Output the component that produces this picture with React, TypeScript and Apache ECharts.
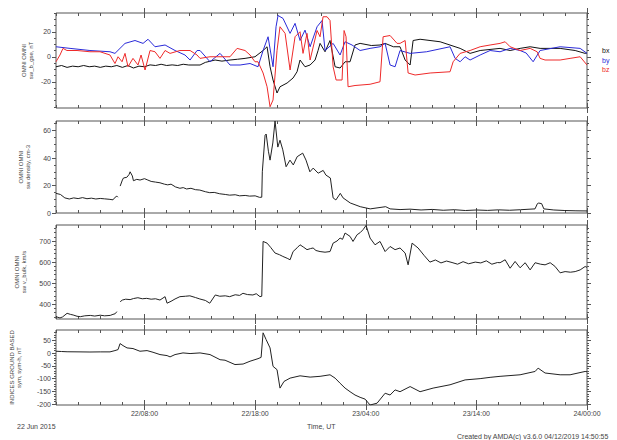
import React, { useEffect, useRef } from "react";
import * as echarts from "echarts";

// ---------- data (hours since 22 Jun 2015 00:00 UT) ----------
const X_MAJOR = [8, 18, 28, 38, 48];
const X_MINOR = [0, 2, 4, 6, 10, 12, 14, 16, 20, 22, 24, 26, 30, 32, 34, 36, 40, 42, 44, 46];

const Y_RANGES = [[-41, 35], [0, 67], [330, 776], [-203, 90]];
const Y_LABELS = [[-20, 0, 20], [0, 20, 40, 60], [400, 500, 600, 700], [-200, -150, -100, -50, 0, 50]];
const Y_MINOR = [
  [-40, -35, -30, -25, -15, -10, -5, 5, 10, 15, 25, 30, 35],
  [5, 10, 15, 25, 30, 35, 45, 50, 55, 65],
  [340, 360, 380, 420, 440, 460, 480, 520, 540, 560, 580, 620, 640, 660, 680, 720, 740, 760],
  [-190, -180, -170, -160, -140, -130, -120, -110, -90, -80, -70, -60, -40, -30, -20, -10, 10, 20, 30, 40, 60, 70, 80],
];
const Y_NAMES = [
  "OMNI OMNI\nsw_b_gse, nT",
  "OMNI OMNI\nsw density, cm-3",
  "OMNI OMNI\nsw v_bulk, km/s",
  "INDICES GROUND BASED\nsym, sym-h, nT",
];

const BX = [[0,-8],[0.5,-7],[1,-8.5],[1.5,-7.5],[2,-8],[2.5,-7],[3,-8],[3.5,-7.5],[4,-8.5],[4.5,-7.5],[5,-8],[5.5,-7],[6,-8.5],[6.5,-7],[7,-9],[7.5,-7.5],[8,-8],[8.5,-6.5],[9,-7],[9.5,-6],[10,-7],[10.5,-6.5],[11,-7],[11.5,-6],[12,-6.6],[13.02,-6.6],[13.5,-4.5],[14.38,-2.6],[15,-3.5],[15.73,-2.6],[16.4,-2],[17.09,-1.3],[17.99,0],[18.72,5],[19.08,8],[19.35,-8],[19.62,-18.6],[19.98,-29],[20.25,-24],[20.89,-21],[21.43,-17],[21.79,-12],[22.06,-2.6],[22.51,-8],[22.97,-6.6],[23.42,-2.6],[23.69,5],[23.87,10.7],[24.32,4],[24.77,13],[25.23,-8],[25.68,-9],[26.13,-4],[26.58,-4],[27.03,9.4],[27.49,10.7],[28.5,9],[29.29,9.4],[29.75,10.7],[30.5,8],[31.1,8],[31.56,-2.6],[32.01,-6.6],[32.28,13],[32.91,14],[34.72,12],[36.53,6.7],[37.43,2.7],[38.34,5],[40.14,6.7],[41.05,5],[41.95,6.7],[42.86,8],[43.76,6.7],[45.57,6.7],[46.93,5],[47.83,2.7],[48,3]];

const BY = [[0,8],[1.27,6.7],[3.07,5],[4.88,4],[5.33,2.7],[6.24,10.7],[7.14,13],[7.87,10.7],[8.32,14],[8.95,8],[9.86,9.4],[10.76,5],[11.66,1.4],[12.12,-2.6],[12.75,5],[13.02,5],[13.92,-4],[14.83,2.7],[15.73,-6.6],[16.64,-6.6],[17.54,-5.4],[18.26,-8],[18.72,5],[19.17,16],[19.62,-8],[19.89,24],[20.07,33],[20.52,30.7],[21.16,18.7],[21.61,26.7],[22.06,13],[22.51,21.3],[22.97,8],[23.6,24],[24.05,29],[24.32,5],[25.05,10.7],[25.68,1.4],[26.13,12],[26.76,9.4],[27.49,5],[28.39,6.7],[29.29,8],[29.75,10.7],[30.2,-6.6],[30.65,-8],[31.1,5],[32.01,2.7],[33.5,4],[35.62,8],[36.08,-1.3],[36.53,-4],[36.98,0],[37.43,-2.6],[38.34,1.4],[39.24,5],[40.14,4],[41.05,6.7],[41.95,5],[42.5,3],[43.13,-4],[43.76,5],[45.57,8],[47.38,6.7],[48,2.7]];

const BZ = [[0,-4],[0.36,1.4],[0.63,6.7],[0.99,5],[1.9,5],[3.07,4],[3.98,4],[4.88,1.4],[5.33,-5.4],[5.61,0],[5.97,-4],[6.24,2.7],[6.51,-8],[6.96,-1.3],[7.41,-6.6],[7.69,1.4],[8.05,-10.6],[8.5,5],[8.95,4],[9.4,-1.3],[9.86,5],[10.31,2.7],[11.21,5],[12.12,5],[12.75,1.4],[13.02,-1.3],[13.92,0],[15.73,0],[16.37,6.7],[17.09,5],[17.54,1.4],[17.99,-4],[18.26,-4],[18.72,-13],[19.08,-24],[19.35,-40],[19.62,-34.6],[19.98,5],[20.25,24],[20.71,18.7],[21.16,-10.6],[21.61,16],[22.06,20],[22.33,2.7],[22.69,18.7],[22.97,-2.6],[23.6,21],[23.87,16],[24.14,32],[24.5,32],[24.77,29],[25.05,-8],[25.32,-18.6],[25.86,-18.6],[26.04,21],[26.22,16],[26.4,-24],[27.03,-23],[28.39,-22],[29.29,-20],[29.57,16],[30.2,17],[30.83,10.7],[31.1,10.7],[31.56,13],[31.83,-13],[32.46,-14.6],[33.82,-13],[35.62,-12],[35.9,-4],[36.53,2.7],[37.43,5],[38.34,8],[39.24,9.4],[40.14,10.7],[40.6,12],[41.05,8],[41.95,5],[42.86,6.7],[43.49,4],[43.76,-1.3],[44.21,-2.6],[45.57,-2.6],[46.47,-1.3],[47.38,0],[48,-6.6]];

const DENS = [[0,14.3],[0.4,13.5],[0.8,11],[1.2,10.2],[1.6,11],[2.0,10.5],[2.4,11.2],[2.8,10.4],[3.2,10.8],[3.6,10.2],[4.0,10.6],[4.4,10.3],[4.8,10.0],[5.15,9.6],[5.35,11.5],[5.5,12.3],[5.6,11.5],[5.7,"-"],[5.8,19.6],[6.0,24],[6.1,25.5],[6.4,26],[6.6,28],[6.7,30],[6.9,27],[7.0,23.5],[7.3,24.5],[7.6,24],[8.0,25],[8.3,24],[8.6,23],[9.0,22.5],[9.4,22],[9.8,21],[10.1,20.5],[10.4,21],[10.8,19],[11.2,18],[11.5,18.5],[11.8,17.5],[12.2,18],[12.6,17],[13.0,16.7],[13.5,15.5],[13.9,14.8],[14.3,15],[14.8,14],[15.3,13.5],[15.7,13],[16.2,13.3],[16.6,12.5],[17.1,12.8],[17.5,12.3],[18.0,12.5],[18.4,11.4],[18.6,11.5],[18.65,30],[18.9,56.7],[19.0,57.5],[19.2,45],[19.35,38.5],[19.6,51],[19.8,67],[20.05,48],[20.25,53],[20.5,46],[20.8,33.7],[21.15,38.5],[21.45,35],[21.8,41],[22.3,43.6],[22.6,38.5],[22.95,30],[23.25,32.7],[23.7,29],[24.15,31],[24.4,27.6],[24.8,25.5],[25.05,11],[25.3,9.5],[25.7,14.3],[25.95,11],[26.6,7.3],[27.5,4.6],[28.4,3],[29.8,4.6],[30.2,3],[31.1,2.5],[32,2.8],[33,2.2],[34,2.6],[35,2.0],[36,2.4],[37,1.8],[38,2.2],[39,1.9],[40,2.3],[41,2.0],[42,2.4],[43.3,3],[43.5,6.5],[43.6,7.3],[43.9,6.8],[44.1,3],[45,2.2],[46,1.8],[47,1.6],[48,1.5]];

const VEL = [[0,341],[0.36,335],[0.6,340],[1.0,357],[1.3,352],[1.55,349],[1.9,343],[2.2,341],[2.6,345],[3.1,347],[3.5,344],[4.0,348],[4.4,345],[4.9,347],[5.15,352],[5.35,355],[5.5,365],[5.65,"-"],[5.8,412],[6.0,420],[6.3,424],[6.7,422],[7.0,427],[7.4,431],[7.8,426],[8.2,428],[8.6,424],[9.0,426],[9.4,420],[9.86,436],[10.04,405],[10.4,414],[10.76,425],[11.2,436],[11.7,438],[12.1,440],[12.6,432],[13.0,425],[13.5,418],[13.9,405],[14.4,444],[14.8,438],[15.3,440],[15.7,436],[16.2,445],[16.6,442],[16.9,452],[17.3,446],[17.8,444],[18.1,450],[18.44,436],[18.6,438],[18.72,698],[19.08,690],[19.4,670],[19.8,643],[20.2,635],[20.5,627],[20.9,618],[21.16,611],[21.43,650],[21.8,668],[22.06,682],[22.4,670],[22.69,659],[23.0,664],[23.24,667],[23.5,655],[23.87,650],[24.32,647],[24.77,650],[25.05,690],[25.4,700],[25.68,714],[25.9,708],[26.13,738],[26.58,722],[26.85,698],[27.22,730],[27.5,740],[27.76,754],[28.03,774],[28.39,714],[28.84,682],[29.29,698],[29.75,650],[30.2,674],[30.65,659],[31.1,667],[31.56,643],[31.83,587],[32.19,690],[32.73,667],[33.3,630],[33.8,600],[34.3,610],[34.8,596],[35.3,605],[35.8,598],[36.3,590],[36.8,602],[37.3,592],[37.9,600],[38.4,596],[38.9,606],[39.4,590],[39.9,598],[40.14,597],[40.6,611],[41.05,571],[41.5,603],[41.95,573],[42.41,597],[42.86,563],[43.31,597],[43.8,590],[44.21,587],[44.67,597],[45.1,580],[45.57,549],[46.02,555],[46.5,552],[46.93,555],[47.38,563],[47.83,579],[48,575]];

const SYMH = [[0,7],[0.5,6],[1,5],[2.17,4.5],[3.07,4],[4,4.5],[4.88,4.5],[5.33,9.6],[5.61,13.5],[5.79,37],[6.06,29],[6.42,20],[6.96,17.5],[7.59,7],[8.23,9.6],[8.77,3],[9.4,-6],[10.04,-10],[10.31,-15],[10.76,-6],[11.48,0.5],[12.12,-2],[13.02,0.5],[13.92,-6],[14.83,-26],[15.28,-28],[16.18,-45],[16.91,-43],[17.54,-32],[18.26,-22],[18.54,-17],[18.72,79],[18.99,53],[19.35,20],[19.62,-52],[19.98,-65],[20.25,-137],[20.61,-111],[21.16,-98],[22.06,-89],[22.97,-94],[23.87,-91],[24.77,-85],[25.23,-98],[25.68,-118],[26.13,-137],[26.58,-151],[27.03,-164],[27.49,-173],[27.94,-180],[28.39,-203],[29.02,-196],[29.75,-157],[30.2,-164],[30.65,-144],[31.1,-151],[32.01,-131],[32.91,-151],[34.09,-137],[35.62,-124],[36.98,-105],[38.34,-100],[39.24,-95],[40.14,-91],[41.95,-85],[43.31,-72],[43.58,-59],[44.21,-78],[45.57,-85],[46.47,-85],[47.83,-72],[48,-73]];

const LEGEND = [
  { name: "bx", color: "#111111" },
  { name: "by", color: "#2a2ad8" },
  { name: "bz", color: "#ee2a2a" },
];

// ---------- layout ----------
const GRIDS = [
  { top: 13, height: 95 },
  { top: 121, height: 92 },
  { top: 225, height: 94 },
  { top: 330, height: 75 },
];
const NAME_GAPS = [22, 25, 29, 34];
const AXIS_COLOR = "#555";
const TEXT_COLOR = "#444";
const FONT = "Liberation Sans";

function fmtTime(v: number) {
  const d = 22 + Math.floor(v / 24);
  const hh = v % 24;
  return `${d}/${String(hh).padStart(2, "0")}:00`;
}

function buildOption() {
  const grid = GRIDS.map((g) => ({
    left: 56,
    right: 30,
    top: g.top,
    height: g.height,
    show: true,
    borderColor: AXIS_COLOR,
    borderWidth: 1,
    backgroundColor: "transparent",
    containLabel: false,
  }));

  const xAxis: any[] = [];
  const yAxis: any[] = [];
  GRIDS.forEach((_, gi) => {
    const base = {
      type: "value",
      gridIndex: gi,
      min: 0,
      max: 48,
      splitLine: { show: false },
      axisLine: { show: false, onZero: false },
    };
    const tickStyle = { color: AXIS_COLOR, width: 1 };
    const mk = (position: string, values: number[], inside: boolean, length: number, labels: boolean) => ({
      ...base,
      position,
      axisTick: { show: true, inside, length, customValues: values, lineStyle: tickStyle },
      axisLabel: labels
        ? {
            show: true,
            customValues: X_MAJOR,
            formatter: fmtTime,
            fontSize: 7,
            fontFamily: FONT,
            color: TEXT_COLOR,
            margin: 5,
          }
        : { show: false },
    });
    xAxis.push(mk("bottom", X_MINOR, true, 3, gi === 3));
    xAxis.push(mk("top", X_MINOR, true, 3, false));
    xAxis.push(mk("bottom", X_MAJOR, true, 5, false));
    xAxis.push(mk("bottom", X_MAJOR, false, 5, false));
    xAxis.push(mk("top", X_MAJOR, true, 5, false));
    xAxis.push(mk("top", X_MAJOR, false, 5, false));

    const ybase = {
      type: "value",
      gridIndex: gi,
      min: Y_RANGES[gi][0],
      max: Y_RANGES[gi][1],
      splitLine: { show: false },
      axisLine: { show: false, onZero: false },
    };
    const tickStyleY = { color: AXIS_COLOR, width: 1 };
    yAxis.push({
      ...ybase,
      position: "left",
      name: Y_NAMES[gi],
      nameLocation: "middle",
      nameRotate: 90,
      nameGap: NAME_GAPS[gi],
      nameMoveOverlap: false,
      nameTextStyle: { fontSize: 6, lineHeight: 7, fontFamily: FONT, color: TEXT_COLOR, align: "center" },
      axisTick: { show: true, inside: false, length: 4, customValues: Y_LABELS[gi], lineStyle: tickStyleY },
      axisLabel: { show: true, customValues: Y_LABELS[gi], fontSize: 7, fontFamily: FONT, color: TEXT_COLOR, margin: 5 },
    });
    yAxis.push({
      ...ybase,
      position: "left",
      axisTick: { show: true, inside: false, length: 2, customValues: Y_MINOR[gi], lineStyle: tickStyleY },
      axisLabel: { show: false },
    });
    yAxis.push({
      ...ybase,
      position: "right",
      axisTick: { show: true, inside: false, length: 4, customValues: Y_LABELS[gi], lineStyle: tickStyleY },
      axisLabel: { show: false },
    });
    yAxis.push({
      ...ybase,
      position: "right",
      axisTick: { show: true, inside: false, length: 2, customValues: Y_MINOR[gi], lineStyle: tickStyleY },
      axisLabel: { show: false },
    });
  });

  const line = (name: string, data: any[], gi: number, color: string) => ({
    name,
    type: "line",
    xAxisIndex: gi * 6,
    yAxisIndex: gi * 4,
    data,
    symbol: "none",
    connectNulls: false,
    clip: true,
    lineStyle: { color, width: 1 },
    itemStyle: { color },
    silent: true,
  });

  const series = [
    line("bx", BX, 0, LEGEND[0].color),
    line("by", BY, 0, LEGEND[1].color),
    line("bz", BZ, 0, LEGEND[2].color),
    line("density", DENS, 1, "#222"),
    line("v_bulk", VEL, 2, "#222"),
    line("sym-h", SYMH, 3, "#222"),
  ];

  const graphic: any[] = [
    ...LEGEND.map((l, i) => ({
      type: "text",
      left: 602,
      top: 47 + i * 9.5,
      style: { text: l.name, fill: l.color, fontSize: 7, fontFamily: FONT },
    })),
    {
      type: "text",
      left: 17,
      top: 423,
      style: { text: "22 Jun 2015", fill: TEXT_COLOR, fontSize: 7, fontFamily: FONT },
    },
    {
      type: "text",
      left: 307,
      top: 423,
      style: { text: "Time, UT", fill: TEXT_COLOR, fontSize: 7, fontFamily: FONT },
    },
    {
      type: "text",
      left: 457,
      top: 433,
      style: { text: "Created by AMDA(c) v3.6.0 04/12/2019 14:50:55", fill: TEXT_COLOR, fontSize: 7, fontFamily: FONT },
    },
  ];

  return {
    animation: false,
    backgroundColor: "#ffffff",
    grid,
    xAxis,
    yAxis,
    series,
    graphic,
  };
}

export default function App() {
  const ref = useRef<HTMLDivElement>(null);
  useEffect(() => {
    if (!ref.current) return;
    const chart = echarts.init(ref.current, undefined, { renderer: "svg" });
    chart.setOption(buildOption() as any);
    return () => chart.dispose();
  }, []);
  return (
    <div
      ref={ref}
      style={{ position: "fixed", left: 0, top: 0, width: 617, height: 440, background: "#fff" }}
    />
  );
}
